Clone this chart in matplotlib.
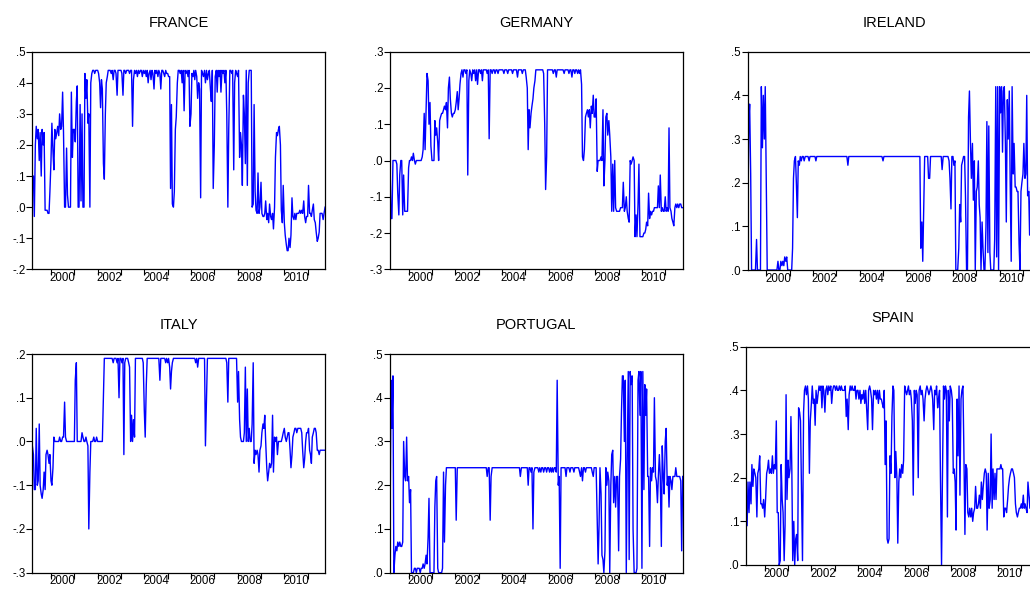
#!/usr/bin/env python
"""
    plot.py - six-panel grid of weekly-ish country series (EViews look)
"""

import matplotlib
matplotlib.use("Agg")
import matplotlib.dates as mdates
import matplotlib.pyplot as plt
import pandas as pd
from matplotlib.ticker import FixedLocator, FuncFormatter, MultipleLocator, NullFormatter

plt.rcParams['font.family'] = ['Liberation Sans', 'DejaVu Sans']

# semi-monthly observations (1st / 15th) starting mid March 1999, one row per year
START = '1999-03-15'
LABEL_YEARS = [2000, 2002, 2004, 2006, 2008, 2010]

france = [
    .10, .10, -.03, .20, .26, .22, .25, .15, .24, .10, .25, .20, .24, -.01, -.01, -.01, -.02, -.02, .05,
    .15, .27, .18, .12, .25, .22, .24, .26, .23, .30, .25, .26, .37, .24, .00, .00, .19, .04, .00, .00, .00, .37, .16, .25,
    .25, .21, .34, .39, .00, .00, .33, .02, .30, .00, .00, .43, .35, .41, .27, .30, .00, .40, .43, .44, .44, .43, .44, .44,
    .44, .43, .40, .32, .41, .38, .14, .09, .30, .40, .42, .44, .44, .44, .43, .44, .41, .44, .44, .43, .36, .44, .44, .44,
    .44, .43, .36, .44, .44, .43, .44, .44, .44, .43, .44, .44, .26, .41, .44, .43, .44, .42, .44, .43, .44, .44, .42, .44,
    .43, .44, .42, .44, .40, .43, .44, .41, .44, .43, .38, .44, .43, .44, .42, .44, .43, .38, .44, .44, .43, .42, .44, .43,
    .43, .42, .42, .06, .33, .01, .00, .05, .25, .29, .40, .44, .44, .43, .44, .40, .44, .31, .44, .43, .44, .42, .44, .26,
    .30, .43, .42, .44, .41, .44, .42, .35, .40, .38, .03, .44, .43, .42, .44, .40, .44, .41, .43, .44, .38, .34, .44, .06,
    .20, .42, .44, .37, .44, .42, .44, .37, .44, .43, .44, .40, .44, .30, .00, .25, .44, .44, .43, .44, .12, .40, .44, .43,
    .42, .44, .16, .24, .20, .07, .36, .30, .14, .44, .07, .40, .44, .44, .44, .00, .01, .33, .05, -.01, -.02, .11, -.02, .00,
    .08, -.02, -.03, -.03, -.02, .02, -.04, -.02, -.05, .01, -.03, -.04, -.02, -.07, .00, .16, .24, .23, .25, .26, .20, -.01, -.05, .07,
    -.05, -.09, -.12, -.14, -.14, -.10, -.13, -.09, .03, -.03, -.04, -.02, -.04, -.02, -.02, -.02, -.01, -.02, -.01, -.02, .02, -.03, -.05, -.03,
    -.03, .07, -.02, -.02, -.03, -.01, .01, -.04, -.05, -.08, -.11, -.10, -.08, -.02, -.02, -.02, -.04, -.02, .00,
]

germany = [
    .00, -.16, -.16, .00, .00, .00, .00, -.01, -.09, -.15, -.04, .00, .00, -.15, -.04, -.14, -.14, -.14, -.14,
    -.02, .00, .00, .01, .00, .02, .00, -.01, .00, .00, .00, .00, .00, .00, .01, .03, .13, .03, .14, .24, .22, .10, .16, .04,
    .00, .00, .00, .11, .07, .09, .05, .00, .11, .12, .13, .13, .14, .15, .14, .16, .09, .20, .23, .17, .13, .12, .13, .13,
    .14, .16, .19, .14, .17, .21, .24, .25, .23, .25, .25, .24, .25, -.04, .22, .25, .24, .22, .25, .24, .25, .22, .25, .21,
    .25, .25, .24, .25, .22, .25, .25, .25, .25, .24, .25, .06, .25, .25, .24, .25, .25, .24, .25, .25, .24, .25, .25, .25,
    .25, .25, .24, .25, .25, .25, .24, .25, .25, .25, .25, .24, .25, .25, .25, .25, .23, .25, .25, .25, .25, .24, .25, .25,
    .25, .23, .20, .03, .14, .09, .13, .15, .17, .20, .22, .25, .25, .25, .25, .25, .25, .25, .25, .24, .10, -.08, .01, .25,
    .25, .25, .25, .25, .25, .24, .25, .25, .23, .25, .25, .25, .25, .25, .25, .25, .24, .25, .25, .25, .25, .24, .25, .25,
    .23, .25, .25, .24, .25, .25, .24, .25, .24, .25, .21, .01, .00, .03, .12, .13, .14, .12, .14, .09, .15, .13, .18, .12,
    .12, .17, -.03, .00, .00, .00, .01, .00, .14, -.07, .00, .12, .13, .07, .11, .07, .01, -.14, -.01, -.14, .00, -.13, -.14, -.14,
    -.14, -.14, -.13, -.13, -.13, -.06, -.14, -.13, -.10, -.14, -.16, -.17, .00, -.01, .00, .01, .00, -.21, -.15, -.21, -.12, -.01, -.21, -.21,
    -.21, -.21, -.20, -.20, -.19, -.17, -.18, -.09, -.16, -.14, -.15, -.14, -.14, -.13, -.13, -.13, -.13, -.07, -.13, -.04, -.14, -.13, -.14, -.14,
    -.10, -.14, -.13, -.14, .09, -.13, -.14, -.16, -.17, -.18, -.13, -.12, -.13, -.12, -.13, -.12, -.12, -.13, -.13,
]

ireland = [
    .07, .34, .38, .22, .00, .00, .00, .00, .00, .07, .00, .00, .00, .00, .42, .28, .40, .30, .42,
    .20, .00, .00, .00, .00, .00, .00, .00, .00, .00, .00, .00, .02, .00, .00, .02, .01, .02, .01, .03, .02, .03, .00, .00,
    .00, .00, .00, .05, .21, .25, .26, .20, .12, .25, .24, .26, .25, .26, .26, .25, .26, .26, .26, .26, .25, .26, .26, .26,
    .26, .26, .26, .25, .26, .26, .26, .26, .26, .26, .26, .26, .26, .26, .26, .26, .26, .26, .26, .26, .26, .26, .26, .26,
    .26, .26, .26, .26, .26, .26, .26, .26, .26, .26, .26, .26, .24, .26, .26, .26, .26, .26, .26, .26, .26, .26, .26, .26,
    .26, .26, .26, .26, .26, .26, .26, .26, .26, .26, .26, .26, .26, .26, .26, .26, .26, .26, .26, .26, .26, .26, .26, .26,
    .25, .26, .26, .26, .26, .26, .26, .26, .26, .26, .26, .26, .26, .26, .26, .26, .26, .26, .26, .26, .26, .26, .26, .26,
    .26, .26, .26, .26, .26, .26, .26, .26, .26, .26, .26, .26, .26, .26, .26, .05, .11, .02, .15, .26, .26, .26, .26, .21,
    .21, .26, .26, .26, .26, .26, .26, .26, .26, .26, .26, .26, .26, .23, .26, .26, .26, .26, .26, .26, .25, .21, .14, .26,
    .26, .24, .25, .00, .00, .00, .05, .15, .11, .24, .25, .26, .26, .17, .00, .00, .35, .41, .29, .21, .29, .16, .25, .00,
    .18, .19, .25, .15, .12, .00, .11, .05, .00, .00, .10, .34, .04, .33, .04, .00, .00, .00, .00, .07, .42, .03, .42, .00,
    .42, .36, .42, .27, .41, .42, .29, .11, .39, .30, .41, .20, .02, .42, .22, .29, .19, .19, .18, .18, .06, .00, .18, .20,
    .22, .29, .21, .22, .40, .17, .18, .08, .19, .18, .19, .18, .19, .18, .18, .19, .18, .18, .18,
]

italy = [
    -.01, -.03, -.11, -.11, .03, -.10, -.09, .04, -.10, -.12, -.13, -.11, -.07, -.11, -.03, -.02, -.03, -.05, -.03,
    -.09, -.10, -.06, .01, .00, .00, .00, .00, .00, .01, .00, .00, .01, .01, .09, .01, .00, .00, .00, .00, .00, .00, .00, .00,
    .00, .14, .18, .00, .00, .00, .00, .00, .02, .01, .00, .00, .01, .00, -.01, -.20, -.07, .00, .00, .00, .01, .00, .00, .01,
    .00, .00, .00, .00, .00, .00, .10, .19, .19, .19, .19, .19, .19, .19, .19, .19, .18, .19, .19, .19, .18, .19, .10, .19,
    .19, .18, .19, -.03, .18, .19, .19, .19, .18, .17, .00, .06, .00, .05, .01, .19, .19, .19, .19, .19, .19, .19, .19, .18,
    .07, .01, .13, .19, .19, .19, .19, .19, .19, .19, .19, .19, .19, .19, .19, .19, .14, .19, .19, .19, .19, .19, .18, .19,
    .18, .19, .17, .12, .16, .18, .19, .19, .19, .19, .19, .19, .19, .19, .19, .19, .19, .19, .19, .19, .19, .19, .19, .19,
    .19, .19, .19, .19, .19, .18, .19, .17, .19, .19, .19, .19, .19, .19, .19, -.01, .10, .19, .19, .19, .19, .19, .19, .19,
    .19, .19, .19, .19, .19, .19, .19, .19, .19, .19, .19, .19, .19, .18, .09, .19, .19, .19, .19, .19, .19, .19, .19, .19,
    .09, .16, .05, .01, .00, .00, .00, .02, .17, .00, .12, .00, .03, .00, .00, .04, .18, -.05, -.02, -.03, -.02, -.03, -.07, -.02,
    -.01, .02, .04, .03, .06, .00, -.06, -.09, -.07, -.05, -.06, -.05, .06, -.07, .01, .00, .01, -.03, .00, .00, .00, .00, .01, .02,
    .03, .01, .00, .01, .02, .02, -.02, -.06, -.03, .01, .02, .03, .03, .02, .03, .03, .03, .03, .02, -.02, -.06, -.04, .00, .02,
    .02, .03, -.02, -.03, -.05, .01, .02, .03, .03, .02, -.02, -.02, -.03, -.02, -.02, -.02, -.02, -.02, -.02,
]

portugal = [
    .08, .44, .33, .45, .00, .04, .06, .05, .07, .06, .07, .06, .06, .07, .30, .22, .21, .31, .21,
    .22, .16, .19, .00, .00, .00, .01, .01, .00, .01, .01, .01, .00, .01, .01, .02, .01, .02, .04, .02, .08, .17, .00, .00,
    .00, .00, .00, .15, .21, .22, .01, .00, .00, .00, .00, .01, .23, .07, .20, .24, .24, .24, .24, .24, .24, .24, .24, .24,
    .24, .12, .24, .24, .24, .24, .24, .24, .24, .24, .24, .24, .24, .24, .24, .24, .24, .24, .24, .24, .24, .24, .24, .24,
    .24, .24, .24, .24, .24, .24, .24, .24, .24, .22, .24, .24, .12, .22, .24, .24, .24, .24, .24, .24, .24, .24, .24, .24,
    .24, .24, .24, .24, .24, .24, .24, .24, .24, .24, .24, .24, .24, .24, .24, .24, .24, .24, .24, .22, .24, .24, .24, .24,
    .24, .24, .24, .20, .24, .24, .23, .24, .10, .23, .24, .24, .24, .24, .23, .24, .23, .24, .24, .23, .24, .24, .23, .24,
    .24, .23, .24, .23, .24, .23, .24, .24, .23, .44, .20, .22, .01, .24, .24, .24, .24, .24, .22, .24, .24, .24, .23, .24,
    .24, .24, .23, .24, .24, .24, .24, .24, .23, .22, .24, .21, .24, .24, .23, .24, .24, .24, .24, .24, .24, .23, .22, .24,
    .24, .24, .12, .02, .11, .24, .18, .04, .03, .00, .05, .24, .20, .23, .21, .00, .20, .27, .28, .16, .22, .15, .22, .22,
    .05, .22, .26, .37, .45, .45, .30, .44, .00, .25, .46, .03, .46, .43, .45, .10, .00, .00, .00, .01, .44, .46, .36, .46,
    .01, .46, .19, .43, .36, .42, .22, .22, .06, .24, .21, .24, .23, .40, .22, .21, .16, .22, .27, .22, .06, .29, .22, .18,
    .30, .33, .20, .22, .15, .22, .21, .19, .22, .22, .22, .24, .22, .22, .22, .22, .21, .05, .22,
]

spain = [
    .09, .09, .19, .12, .19, .14, .23, .18, .22, .21, .20, .11, .21, .22, .25, .14, .14, .13, .15,
    .11, .15, .21, .22, .24, .21, .22, .21, .25, .21, .23, .22, .33, .12, .12, .00, .01, .23, .15, .12, .01, .09, .39, .15,
    .24, .20, .22, .34, .22, .01, .10, .00, .06, .07, .01, .36, .35, .33, .16, .01, .35, .40, .41, .39, .41, .38, .21, .33,
    .37, .41, .37, .38, .32, .40, .37, .39, .41, .40, .41, .36, .41, .40, .35, .40, .41, .39, .41, .40, .41, .37, .40, .41,
    .41, .40, .41, .40, .40, .41, .40, .41, .40, .40, .40, .41, .34, .38, .31, .39, .41, .40, .41, .40, .40, .41, .38, .40,
    .40, .38, .40, .37, .39, .38, .40, .37, .40, .36, .31, .40, .41, .40, .38, .31, .40, .39, .40, .38, .40, .37, .40, .38,
    .38, .37, .36, .40, .23, .33, .06, .05, .06, .25, .21, .34, .41, .40, .20, .26, .20, .05, .19, .22, .20, .23, .21, .24,
    .41, .40, .39, .40, .41, .39, .40, .38, .33, .16, .40, .37, .40, .39, .20, .40, .41, .39, .40, .38, .33, .38, .40, .41,
    .40, .39, .40, .41, .40, .38, .31, .40, .39, .41, .36, .38, .40, .20, .00, .20, .41, .38, .41, .40, .11, .40, .33, .41,
    .40, .38, .21, .22, .19, .08, .38, .25, .41, .16, .38, .40, .41, .27, .07, .23, .22, .12, .11, .13, .11, .13, .10, .12,
    .13, .18, .13, .13, .14, .16, .13, .19, .15, .18, .21, .22, .21, .08, .21, .13, .15, .30, .13, .22, .15, .21, .15, .22,
    .22, .22, .22, .23, .22, .22, .11, .13, .13, .12, .15, .18, .20, .21, .22, .22, .21, .20, .14, .12, .11, .12, .13, .13,
    .14, .13, .16, .13, .14, .13, .12, .19, .16, .13, .17, .14, .15, .13, .15, .14, .13, .15, .14,
]

# name, series, y range
PANELS = [
    ('FRANCE', france, (-0.2, 0.5)),
    ('GERMANY', germany, (-0.3, 0.3)),
    ('IRELAND', ireland, (0.0, 0.5)),
    ('ITALY', italy, (-0.3, 0.2)),
    ('PORTUGAL', portugal, (0.0, 0.5)),
    ('SPAIN', spain, (0.0, 0.5)),
]

# axes boxes in figure fractions (right column runs off the page like the original)
RECTS = [
    [0.0314, 0.5443, 0.2842, 0.3682],
    [0.3786, 0.5443, 0.2842, 0.3682],
    [0.7259, 0.5431, 0.2842, 0.3694],
    [0.0314, 0.0310, 0.2842, 0.3700],
    [0.3786, 0.0310, 0.2842, 0.3700],
    [0.7243, 0.0440, 0.2842, 0.3694],
]


def eviews_fmt(v, _pos):
    # .5 / .0 / -.1 style labels
    s = f"{v:.1f}"
    if s == "-0.0":
        s = "0.0"
    return s.replace("0.", ".", 1)


def draw_panel(fig, rect, title, vals, ylim):
    ax = fig.add_axes(rect)
    dates = pd.date_range(START, periods=len(vals), freq='SMS')
    ax.plot(dates, vals, color='#0000ff', lw=1.0)

    ax.set_xlim(dates[0], dates[-1])
    ax.set_ylim(*ylim)

    ax.yaxis.set_major_locator(MultipleLocator(0.1))
    ax.yaxis.set_major_formatter(FuncFormatter(eviews_fmt))

    # ticks at the start of each year, labels centred inside even years
    ax.xaxis.set_major_locator(mdates.YearLocator())
    ax.xaxis.set_major_formatter(NullFormatter())
    mids = [mdates.date2num(pd.Timestamp(f"{y}-07-01")) for y in LABEL_YEARS]
    ax.xaxis.set_minor_locator(FixedLocator(mids))
    ax.xaxis.set_minor_formatter(FuncFormatter(lambda v, p: str(mdates.num2date(v).year)))

    ax.tick_params(axis='x', which='major', direction='out', length=4, width=0.8)
    ax.tick_params(axis='x', which='minor', length=0, pad=2, labelsize=8.3)
    ax.tick_params(axis='y', direction='out', length=4, width=0.8, pad=1, labelsize=8.3)

    for sp in ax.spines.values():
        sp.set_linewidth(0.9)
        sp.set_color('black')

    ax.set_title(title, fontsize=10.5, pad=18)
    return ax


def main():
    fig = plt.figure(figsize=(10.3, 5.91), dpi=100)
    for rect, (title, vals, ylim) in zip(RECTS, PANELS):
        draw_panel(fig, rect, title, vals, ylim)
    fig.savefig('out.png', dpi=100)


if __name__ == "__main__":
    main()
